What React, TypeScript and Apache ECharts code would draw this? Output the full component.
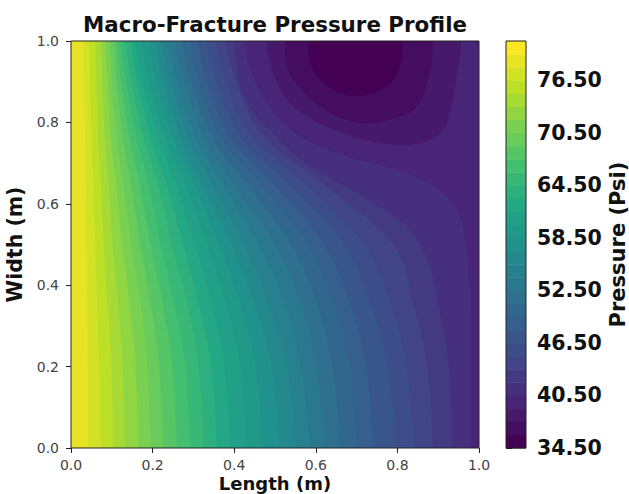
import React, { useEffect, useRef } from "react";
import * as echarts from "echarts";

const titleText = "Macro-Fracture Pressure Profile";
const xTicks = [0, 0.2, 0.4, 0.6, 0.8, 1];
const colorbarTicks = [34.5, 40.5, 46.5, 52.5, 58.5, 64.5, 70.5, 76.5];
const bandEdges = [34.5, 36, 37.5, 39, 40.5, 42, 43.5, 45, 46.5, 48, 49.5, 51, 52.5, 54, 55.5, 57, 58.5, 60, 61.5, 63, 64.5, 66, 67.5, 69, 70.5, 72, 73.5, 75, 76.5, 78, 79.5, 81];
const viridisStops = ["#440154", "#482576", "#414487", "#355f8d", "#2a788e", "#21918c", "#22a884", "#44bf70", "#7ad151", "#bddf26", "#fde725"];

// Width positions (y) at which each isobar's length position (x) was read.
const isoY = [0, 0.2, 0.35, 0.5, 0.65, 0.78, 1];
const isoLevels = [78, 76.5, 75, 73.5, 72, 70.5, 69, 67.5, 66, 64.5, 63, 61.5, 60, 58.5, 57, 55.5, 54, 52.5, 51, 49.5, 48, 46.5, 45, 43.5];
const isoX = [
  [0.042, 0.041, 0.039, 0.037, 0.036, 0.034, 0.03],
  [0.072, 0.069, 0.064, 0.059, 0.055, 0.05, 0.045],
  [0.103, 0.099, 0.09, 0.08, 0.073, 0.066, 0.06],
  [0.132, 0.127, 0.116, 0.102, 0.092, 0.082, 0.074],
  [0.165, 0.158, 0.144, 0.125, 0.11, 0.096, 0.085],
  [0.195, 0.187, 0.171, 0.148, 0.128, 0.11, 0.095],
  [0.226, 0.216, 0.196, 0.17, 0.147, 0.125, 0.105],
  [0.259, 0.248, 0.225, 0.195, 0.168, 0.14, 0.113],
  [0.292, 0.28, 0.254, 0.22, 0.19, 0.157, 0.122],
  [0.325, 0.312, 0.286, 0.247, 0.212, 0.173, 0.133],
  [0.357, 0.343, 0.314, 0.275, 0.233, 0.19, 0.146],
  [0.39, 0.376, 0.346, 0.303, 0.257, 0.208, 0.158],
  [0.43, 0.414, 0.381, 0.333, 0.28, 0.226, 0.172],
  [0.47, 0.452, 0.416, 0.362, 0.302, 0.244, 0.19],
  [0.51, 0.491, 0.451, 0.394, 0.32, 0.262, 0.207],
  [0.55, 0.529, 0.486, 0.425, 0.345, 0.28, 0.222],
  [0.585, 0.563, 0.525, 0.46, 0.37, 0.298, 0.238],
  [0.62, 0.6, 0.565, 0.5, 0.398, 0.318, 0.255],
  [0.66, 0.64, 0.605, 0.54, 0.43, 0.337, 0.272],
  [0.7, 0.683, 0.645, 0.58, 0.463, 0.358, 0.291],
  [0.74, 0.723, 0.685, 0.62, 0.496, 0.38, 0.31],
  [0.795, 0.776, 0.735, 0.67, 0.533, 0.405, 0.332],
  [0.84, 0.823, 0.785, 0.72, 0.573, 0.432, 0.355],
  [0.887, 0.873, 0.84, 0.79, 0.618, 0.46, 0.378],
];
// Isobars that turn over near the low-pressure pocket, read as [length, width].
const iso42 = [[0.935, 0], [0.926, 0.2], [0.905, 0.33], [0.875, 0.46], [0.83, 0.536], [0.757, 0.593], [0.659, 0.65], [0.56, 0.71], [0.49, 0.78], [0.45, 0.82], [0.415, 0.89], [0.4, 1]];
const iso405 = [[0.98, 0], [0.98, 0.2], [0.978, 0.38], [0.961, 0.544], [0.92, 0.618], [0.855, 0.663], [0.773, 0.691], [0.675, 0.716], [0.577, 0.757], [0.5, 0.818], [0.445, 0.917], [0.425, 1]];
const iso39 = [[0.478, 1], [0.507, 0.892], [0.572, 0.818], [0.692, 0.765], [0.79, 0.745], [0.855, 0.749], [0.912, 0.781], [0.936, 0.862], [0.957, 1]];
const iso375 = [[0.523, 1], [0.536, 0.92], [0.61, 0.838], [0.716, 0.798], [0.838, 0.83], [0.879, 0.92], [0.887, 1]];
const iso36 = [[0.58, 1], [0.593, 0.93], [0.642, 0.88], [0.708, 0.865], [0.773, 0.887], [0.806, 0.936], [0.814, 1]];

function viridis(t: number) {
  const p = Math.max(0, Math.min(1, t)) * (viridisStops.length - 1);
  const i = Math.min(Math.floor(p), viridisStops.length - 2);
  const f = p - i;
  const hex = (s: string, k: number) => parseInt(s.slice(1 + 2 * k, 3 + 2 * k), 16);
  const c = [0, 1, 2].map((k) => Math.round(hex(viridisStops[i], k) * (1 - f) + hex(viridisStops[i + 1], k) * f));
  return `rgb(${c[0]},${c[1]},${c[2]})`;
}
const bandColor = (low: number, high: number) => viridis(((low + high) / 2 - 35.25) / 45);

// Smooth drawing of a read isobar; it meets the no-flow edges square on.
function spline(pts: number[][]) {
  const n = pts.length;
  const first = [pts[0][0], 2 * pts[0][1] - pts[1][1]];
  const last = [pts[n - 1][0], 2 * pts[n - 1][1] - pts[n - 2][1]];
  const out: number[][] = [];
  for (let i = 0; i < n - 1; i++) {
    const p0 = i === 0 ? first : pts[i - 1], p1 = pts[i], p2 = pts[i + 1], p3 = i === n - 2 ? last : pts[i + 2];
    for (let s = 0; s < 8; s++) {
      const t = s / 8, t2 = t * t, t3 = t2 * t;
      out.push([0, 1].map((k) =>
        Math.max(0, Math.min(1, 0.5 * (2 * p1[k] + (p2[k] - p0[k]) * t + (2 * p0[k] - 5 * p1[k] + 4 * p2[k] - p3[k]) * t2 + (3 * p1[k] - p0[k] - 3 * p2[k] + p3[k]) * t3)))
      ));
    }
  }
  out.push(pts[n - 1]);
  return out;
}

type Region = { level: number; points: number[][] };
const regions: Region[] = [
  { level: 79.5, points: [[0, 0], [0, 1], [1, 1], [1, 0]] },
  ...isoLevels.map((level, i) => ({
    level,
    points: [...spline(isoY.map((y, j) => [isoX[i][j], y])), [1, 1], [1, 0]],
  })),
  { level: 42, points: [...spline(iso42), [1, 1], [1, 0]] },
  { level: 40.5, points: [...spline(iso405), [1, 1], [1, 0]] },
  { level: 39, points: spline(iso39) },
  { level: 37.5, points: spline(iso375) },
  { level: 36, points: spline(iso36) },
];

const font = "'DejaVu Sans'";

export default function App() {
  const ref = useRef<HTMLDivElement>(null);
  useEffect(() => {
    document.body.style.margin = "0";
    const chart = echarts.init(ref.current!, undefined, { renderer: "svg" });
    const fieldSeries = {
      type: "custom",
      xAxisIndex: 0,
      yAxisIndex: 0,
      clip: true,
      silent: true,
      data: regions.map((r) => [r.points[0][0], r.points[0][1], r.level]),
      encode: { x: 0, y: 1 },
      renderItem: (params: any, api: any) => {
        const r = regions[params.dataIndex];
        return {
          type: "polygon",
          z2: params.dataIndex,
          shape: { points: r.points.map((p) => api.coord(p)) },
          style: { fill: bandColor(r.level - 1.5, r.level), stroke: null },
        };
      },
    };
    const barBands = bandEdges.slice(0, -1).map((low, i) => [low, bandEdges[i + 1]]);
    const colorbarSeries = {
      type: "custom",
      xAxisIndex: 1,
      yAxisIndex: 1,
      silent: true,
      data: barBands,
      encode: { y: [0, 1] },
      renderItem: (_: any, api: any) => {
        const a = api.coord([0, api.value(1)]);
        const b = api.coord([1, api.value(0)]);
        return {
          type: "rect",
          shape: { x: a[0], y: a[1], width: b[0] - a[0], height: b[1] - a[1] + 0.5 },
          style: { fill: bandColor(api.value(0), api.value(1)), stroke: null },
        };
      },
    };
    chart.setOption({
      animation: false,
      backgroundColor: "#ffffff",
      textStyle: { fontFamily: font },
      title: {
        text: titleText,
        left: 270,
        top: 9,
        textAlign: "center",
        textStyle: { fontFamily: font, fontWeight: "bold", fontSize: 21.4, color: "#111" },
      },
      grid: [
        { left: 71, top: 41, width: 408, height: 407, show: true, z: 10, outerBoundsMode: "none", containLabel: false, backgroundColor: "transparent", borderColor: "#222", borderWidth: 1 },
        { left: 506, top: 41, width: 20, height: 407, show: true, z: 10, outerBoundsMode: "none", containLabel: false, backgroundColor: "transparent", borderColor: "#222", borderWidth: 1 },
      ],
      xAxis: [
        {
          type: "value", gridIndex: 0, min: 0, max: 1, interval: 0.2,
          name: "Length (m)", nameLocation: "middle", nameGap: 26, nameMoveOverlap: false,
          nameTextStyle: { fontFamily: font, fontWeight: "bold", fontSize: 18, color: "#111" },
          axisLine: { show: false },
          axisTick: { show: true, length: 5, lineStyle: { color: "#222" } },
          axisLabel: { fontFamily: font, fontSize: 14, color: "#444", margin: 10, formatter: (v: number) => v.toFixed(1), customValues: xTicks },
          splitLine: { show: false },
        },
        { type: "value", gridIndex: 1, min: 0, max: 1, show: false },
      ],
      yAxis: [
        {
          type: "value", gridIndex: 0, min: 0, max: 1, interval: 0.2,
          name: "Width (m)", nameLocation: "middle", nameGap: 40, nameRotate: 90,
          nameTextStyle: { fontFamily: font, fontWeight: "bold", fontSize: 20.5, color: "#111" },
          axisLine: { show: false },
          axisTick: { show: true, length: 5, lineStyle: { color: "#222" } },
          axisLabel: { fontFamily: font, fontSize: 14, color: "#444", margin: 12, formatter: (v: number) => v.toFixed(1) },
          splitLine: { show: false },
        },
        {
          type: "value", gridIndex: 1, position: "right", min: 34.5, max: 81,
          name: "Pressure (Psi)", nameLocation: "middle", nameGap: 81, nameRotate: 90,
          nameTextStyle: { fontFamily: font, fontWeight: "bold", fontSize: 21, color: "#111" },
          axisLine: { show: false },
          axisTick: { show: true, length: 6, lineStyle: { color: "#222" }, customValues: colorbarTicks },
          axisLabel: { fontFamily: font, fontWeight: "bold", fontSize: 20.5, color: "#111", margin: 11, formatter: (v: number) => v.toFixed(2), customValues: colorbarTicks },
          splitLine: { show: false },
        },
      ],
      series: [fieldSeries, colorbarSeries],
    });
    return () => chart.dispose();
  }, []);
  return <div ref={ref} style={{ position: "fixed", left: 0, top: 0, width: 629, height: 494 }} />;
}
